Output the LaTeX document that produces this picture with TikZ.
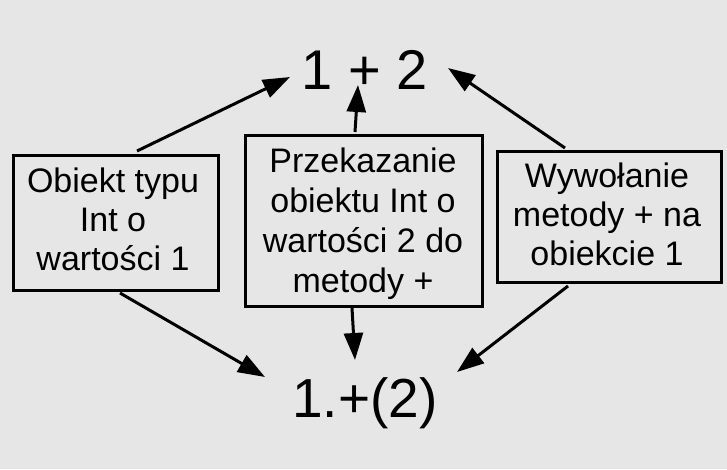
\documentclass[tikz,border=0pt]{standalone}
\usepackage{fontspec}
\setmainfont{Liberation Sans}
\usetikzlibrary{arrows.meta}
\definecolor{bg}{HTML}{E6E6E6}
\begin{document}
\begin{tikzpicture}[x=1pt,y=-1pt,
  boxnode/.style={draw=black,line width=3pt,inner sep=0pt},
  boxtext/.style={inner sep=0pt,align=center,anchor=base,font=\fontsize{34}{#1}\selectfont},
  bigtext/.style={inner sep=0pt,font=\fontsize{56}{60}\selectfont},
  conn/.style={line width=3pt,-{Triangle[length=27pt,width=19pt]}}]
\fill[bg] (0,0) rectangle (727,469);
\useasboundingbox (0,0) rectangle (727,469);
\node[boxnode,minimum width=205pt,minimum height=135pt] (b1) at (115.5,222.5) {};
\node[boxnode,minimum width=237pt,minimum height=171pt] (b2) at (363.5,220.5) {};
\node[boxnode,minimum width=224pt,minimum height=131pt] (b3) at (609,216.5) {};
\node[boxtext=39] (t1text) at (113,270) {Obiekt typu\\Int o\\wartości 1};
\node[boxtext=40] (t2text) at (363,292) {Przekazanie\\obiektu Int o\\wartości 2 do\\metody +};
\node[boxtext=39] (t3text) at (607,265) {Wywołanie\\metody + na\\obiekcie 1};
\node[bigtext,anchor=base] (top) at (365,89) {1 + 2};
\node[bigtext,anchor=base,font=\fontsize{55}{60}\selectfont] (bot) at (365,417) {1.+(2)};
\coordinate (s1) at (137,151);
\coordinate (t1) at (290,77);
\coordinate (s2) at (355,132);
\coordinate (t2) at (358,85);
\coordinate (s3) at (565,148);
\coordinate (t3) at (448,68);
\coordinate (s4) at (120,293);
\coordinate (t4) at (265,377);
\coordinate (s5) at (352,308);
\coordinate (t5) at (355,360);
\coordinate (s6) at (568,286);
\coordinate (t6) at (457,372);
\draw[conn] (s1) -- (t1);
\draw[conn] (s2) -- (t2);
\draw[conn] (s3) -- (t3);
\draw[conn] (s4) -- (t4);
\draw[conn] (s5) -- (t5);
\draw[conn] (s6) -- (t6);
\end{tikzpicture}
\end{document}
